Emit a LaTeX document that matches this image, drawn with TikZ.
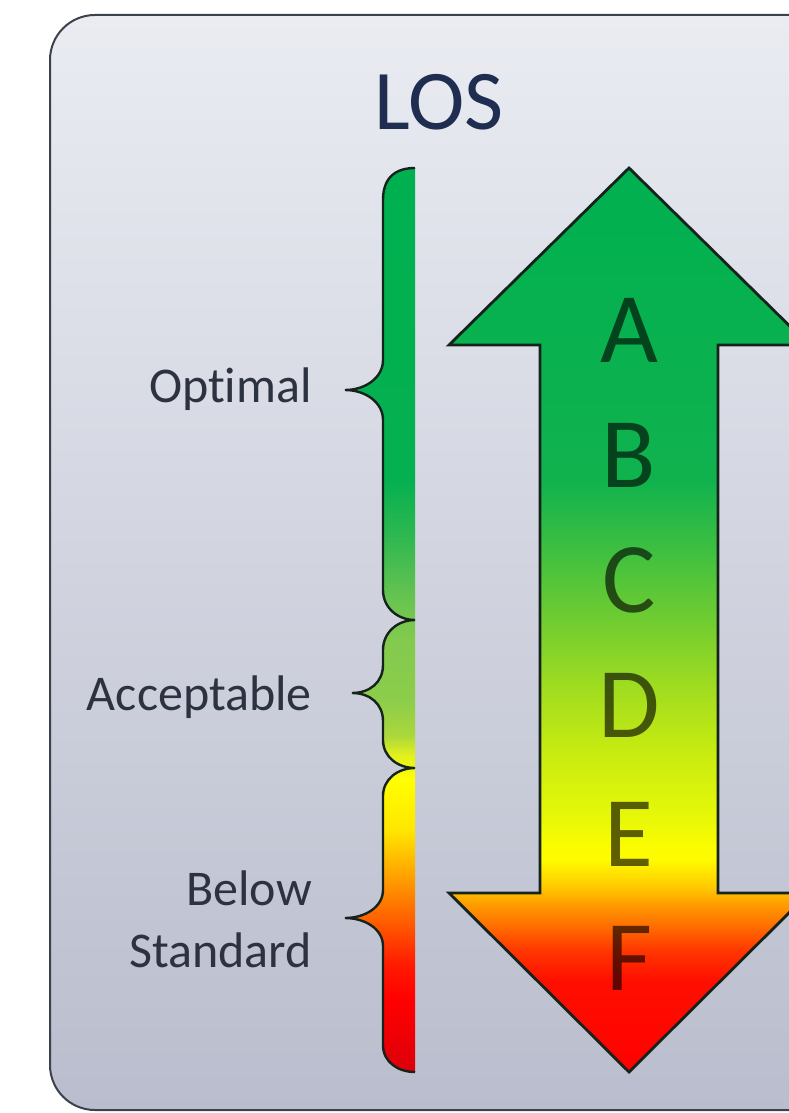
\documentclass[tikz,border=0pt]{standalone}
\usepackage{fontspec}
\setmainfont{Carlito}[Ligatures=NoCommon]
% arrow gradient colours
\definecolor{ag0}{RGB}{255,0,0}
\definecolor{ag1}{RGB}{255,15,0}
\definecolor{ag2}{RGB}{255,55,0}
\definecolor{ag3}{RGB}{255,100,0}
\definecolor{ag4}{RGB}{255,155,0}
\definecolor{ag5}{RGB}{255,205,0}
\definecolor{ag6}{RGB}{255,250,0}
\definecolor{ag7}{RGB}{250,252,0}
\definecolor{ag8}{RGB}{232,248,8}
\definecolor{ag9}{RGB}{200,236,16}
\definecolor{ag10}{RGB}{160,220,32}
\definecolor{ag11}{RGB}{112,204,48}
\definecolor{ag12}{RGB}{64,192,64}
\definecolor{ag13}{RGB}{16,178,78}
\definecolor{ag14}{RGB}{0,176,80}
% bar gradient colours
\definecolor{bg0}{RGB}{220,0,10}
\definecolor{bg1}{RGB}{255,0,0}
\definecolor{bg2}{RGB}{255,25,0}
\definecolor{bg3}{RGB}{255,95,0}
\definecolor{bg4}{RGB}{255,170,0}
\definecolor{bg5}{RGB}{255,230,0}
\definecolor{bg6}{RGB}{255,255,0}
\definecolor{bg7}{RGB}{225,240,30}
\definecolor{bg8}{RGB}{170,215,60}
\definecolor{bg9}{RGB}{140,205,75}
\definecolor{bg10}{RGB}{130,202,78}
\definecolor{bg11}{RGB}{105,196,80}
\definecolor{bg12}{RGB}{50,184,80}
\definecolor{bg13}{RGB}{5,176,80}
\definecolor{bg14}{RGB}{0,176,80}
\definecolor{bgtop}{RGB}{234,236,242}
\definecolor{bgbot}{RGB}{185,189,205}
\definecolor{framecol}{RGB}{60,66,75}
\definecolor{labelcol}{RGB}{45,50,65}
\definecolor{loscol}{RGB}{31,45,80}
\definecolor{outlinecol}{RGB}{22,34,28}
\pgfdeclareverticalshading{losarrow}{100bp}{color(0bp)=(ag0); color(25bp)=(ag0); color(30.1bp)=(ag1); color(31.75bp)=(ag2); color(32.85bp)=(ag3); color(34.24bp)=(ag4); color(35.34bp)=(ag5); color(36.72bp)=(ag6); color(37.55bp)=(ag7); color(38.94bp)=(ag8); color(42.64bp)=(ag9); color(46.29bp)=(ag10); color(50bp)=(ag11); color(53.71bp)=(ag12); color(57.74bp)=(ag13); color(75bp)=(ag14); color(100bp)=(ag14)}
\pgfdeclareverticalshading{losbar}{100bp}{color(0bp)=(bg0); color(25bp)=(bg0); color(28.98bp)=(bg1); color(30.9bp)=(bg2); color(33.4bp)=(bg3); color(36.17bp)=(bg4); color(38.38bp)=(bg5); color(41.2bp)=(bg6); color(42.53bp)=(bg7); color(43.64bp)=(bg8); color(45.58bp)=(bg9); color(49bp)=(bg10); color(51.11bp)=(bg11); color(54.43bp)=(bg12); color(57.74bp)=(bg13); color(75bp)=(bg14); color(100bp)=(bg14)}
\begin{document}
\begin{tikzpicture}[x=1pt,y=-1pt,
  lbl/.style={inner sep=0pt, text=labelcol, font=\fontsize{50}{50}\selectfont},
  grade/.style={inner sep=0pt, text=black, text opacity=0.62, font=\fontsize{100}{100}\selectfont},
  titletext/.style={inner sep=0pt, text=loscol, font=\fontsize{85}{85}\selectfont},
  outline/.style={draw=outlinecol, line width=2.8pt, line join=miter}]
\useasboundingbox (0,0) rectangle (789,1113);
\clip (0,0) rectangle (789,1113);
\fill[white] (0,0) rectangle (789,1113);
% background panel
\shade[top color=bgtop, bottom color=bgbot, draw=framecol, line width=2pt, rounded corners=45pt]
  (50,15) rectangle (850,1110);
% title
\node[titletext, anchor=base] (los) at (439,130) {LOS};
% brace bar
\shade[shading=losbar, draw=outlinecol, line width=2.4pt]
  (415,168) .. controls (395,168) and (383,178) .. (383,200)
  -- (383,360)
  .. controls (383,378) and (365,390) .. (345,390)
  .. controls (365,390) and (383,402) .. (383,420)
  -- (383,590)
  .. controls (383,608) and (398,620) .. (415,620)
  .. controls (398,620) and (383,632) .. (383,650)
  -- (383,665)
  .. controls (383,682) and (370,693) .. (352,693)
  .. controls (370,693) and (383,704) .. (383,721)
  -- (383,740)
  .. controls (383,757) and (398,768) .. (415,768)
  .. controls (398,768) and (383,779) .. (383,796)
  -- (383,890)
  .. controls (383,907) and (365,918) .. (345,918)
  .. controls (365,918) and (383,929) .. (383,946)
  -- (383,1045)
  .. controls (383,1062) and (398,1072) .. (415,1072);
% labels
\node[lbl, anchor=base east] (optimal) at (312,402) {Optimal};
\node[lbl, anchor=base east] (acceptable) at (312,710) {Acceptable};
\node[lbl, anchor=base east] (below) at (312,905) {Below};
\node[lbl, anchor=base east] (standard) at (312,967) {Standard};
% double arrow
\shade[shading=losarrow, outline]
  (629,168) -- (809,345) -- (718,345) -- (718,893) -- (809,893) -- (629,1072)
  -- (449,893) -- (540,893) -- (540,345) -- (449,345) -- cycle;
% grades
\node[grade, anchor=base] (gA) at (629,362) {A};
\node[grade, anchor=base] (gB) at (629,487) {B};
\node[grade, anchor=base] (gC) at (629,612) {C};
\node[grade, anchor=base] (gD) at (629,737) {D};
\node[grade, anchor=base] (gE) at (629,866) {E};
\node[grade, anchor=base] (gF) at (629,990) {F};
\end{tikzpicture}
\end{document}
